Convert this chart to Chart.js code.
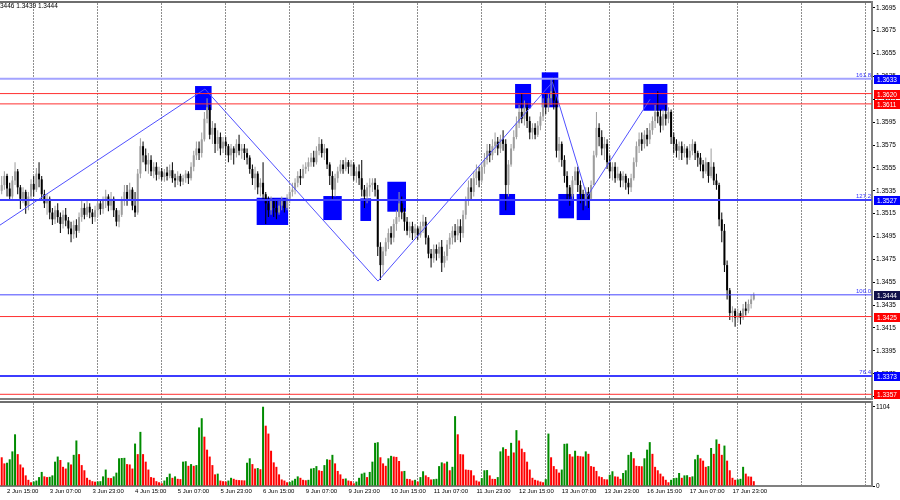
<!DOCTYPE html>
<html>
<head>
<meta charset="utf-8">
<script src="https://cdn.jsdelivr.net/npm/chart.js@4.4.1/dist/chart.umd.min.js"></script>
<style>
html, body { margin: 0; padding: 0; background: #fff; }
#wrap { position: relative; width: 900px; height: 500px; overflow: hidden; }
canvas { position: absolute; left: 0; }
#price { top: 0; }
#vol { top: 400px; }
</style>
</head>
<body>
<div id="wrap">
  <canvas id="price" width="900" height="400"></canvas>
  <canvas id="vol" width="900" height="100"></canvas>
</div>
<script>
// H1 candles, prices in 1/10000 above 1.3000 (3540 = 1.3540)
const firstOpen = 3535;
const closes = [
  3540,3548,3537,3530,3544,3552,3538,3528,3534,3522,
  3530,3541,3536,3550,3545,3532,3524,3528,3516,3510,
  3518,3512,3506,3514,3509,3502,3497,3505,3500,3512,
  3520,3514,3521,3516,3512,3518,3524,3519,3526,3530,
  3522,3528,3518,3508,3514,3526,3534,3528,3536,3522,
  3516,3550,3574,3566,3558,3562,3552,3556,3549,3552,
  3547,3551,3548,3553,3546,3544,3548,3543,3546,3550,
  3546,3556,3566,3572,3568,3580,3598,3608,3584,3590,
  3576,3582,3572,3578,3574,3566,3572,3568,3576,3570,
  3572,3568,3564,3554,3546,3550,3538,3542,3532,3524,
  3518,3526,3520,3516,3522,3526,3520,3528,3534,3536,
  3542,3548,3546,3554,3556,3560,3564,3560,3570,3576,
  3568,3572,3558,3548,3536,3546,3552,3558,3554,3560,
  3556,3558,3548,3552,3546,3536,3530,3538,3540,3542,
  3536,3486,3470,3482,3490,3498,3494,3506,3512,3524,
  3516,3508,3500,3504,3498,3502,3496,3504,3508,3494,
  3480,3476,3484,3480,3486,3472,3478,3488,3494,3500,
  3496,3504,3498,3514,3526,3538,3534,3546,3552,3544,
  3556,3562,3570,3566,3574,3578,3572,3580,3576,3540,
  3558,3572,3582,3594,3604,3598,3608,3596,3586,3590,
  3584,3592,3600,3612,3608,3616,3622,3614,3570,3576,
  3562,3548,3538,3530,3544,3552,3540,3532,3528,3534,
  3528,3540,3566,3590,3582,3572,3576,3560,3552,3556,
  3546,3550,3544,3548,3542,3538,3546,3560,3574,3580,
  3576,3584,3580,3588,3596,3604,3600,3592,3602,3598,
  3604,3582,3576,3570,3574,3568,3572,3564,3570,3576,
  3568,3564,3558,3552,3560,3548,3556,3544,3540,3510,
  3500,3470,3448,3428,3430,3424,3428,3424,3432,3430,
  3436,3440,3444
];
const highs = [
  3548,3552,3550,3542,3548,3560,3554,3540,3538,3536,
  3534,3545,3548,3555,3560,3548,3536,3532,3530,3520,
  3522,3524,3516,3518,3520,3512,3508,3509,3510,3516,
  3526,3524,3526,3524,3519,3522,3528,3527,3530,3536,
  3532,3534,3530,3520,3518,3530,3540,3540,3542,3538,
  3534,3554,3581,3578,3572,3568,3566,3560,3560,3556,
  3555,3554,3556,3558,3560,3550,3552,3550,3549,3553,
  3552,3560,3570,3578,3578,3586,3604,3616,3610,3596,
  3594,3588,3586,3582,3582,3576,3576,3574,3580,3584,
  3576,3576,3572,3566,3558,3556,3552,3546,3560,3534,
  3530,3530,3528,3526,3526,3530,3528,3532,3538,3542,
  3546,3552,3554,3558,3560,3564,3568,3570,3574,3582,
  3580,3576,3572,3560,3552,3550,3556,3562,3562,3564,
  3562,3562,3560,3556,3558,3562,3540,3542,3546,3546,
  3546,3540,3490,3486,3494,3502,3504,3510,3518,3534,
  3530,3520,3512,3508,3508,3506,3504,3508,3514,3512,
  3496,3484,3488,3488,3490,3492,3482,3492,3498,3504,
  3506,3510,3510,3518,3530,3544,3546,3552,3558,3556,
  3560,3568,3576,3576,3580,3586,3582,3584,3588,3580,
  3562,3576,3588,3600,3610,3620,3614,3612,3600,3594,
  3594,3596,3604,3616,3620,3620,3632,3634,3618,3582,
  3578,3566,3552,3540,3548,3556,3556,3544,3536,3538,
  3538,3544,3570,3604,3594,3588,3582,3580,3566,3560,
  3560,3556,3552,3552,3550,3546,3550,3564,3578,3586,
  3586,3588,3590,3594,3600,3610,3622,3606,3606,3610,
  3608,3606,3586,3580,3578,3578,3576,3574,3576,3580,
  3578,3570,3568,3562,3564,3560,3572,3560,3550,3542,
  3516,3506,3474,3450,3434,3432,3432,3430,3436,3438,
  3440,3444,3446
];
const lows = [
  3532,3536,3530,3526,3528,3540,3532,3519,3524,3515,
  3518,3526,3530,3534,3538,3527,3520,3514,3510,3505,
  3506,3507,3498,3502,3504,3497,3490,3493,3494,3498,
  3508,3510,3512,3511,3506,3508,3512,3514,3515,3520,
  3517,3518,3512,3504,3503,3512,3522,3522,3526,3518,
  3512,3514,3546,3560,3552,3550,3548,3546,3544,3545,
  3544,3543,3544,3546,3542,3538,3540,3539,3540,3542,
  3541,3544,3552,3562,3562,3564,3578,3594,3580,3576,
  3568,3570,3566,3568,3566,3560,3562,3558,3564,3566,
  3563,3562,3558,3550,3540,3536,3532,3530,3526,3506,
  3512,3514,3512,3510,3514,3518,3516,3518,3524,3530,
  3532,3538,3540,3546,3550,3552,3556,3556,3558,3566,
  3564,3562,3554,3540,3528,3530,3542,3550,3550,3552,
  3550,3548,3544,3542,3540,3530,3520,3524,3530,3534,
  3530,3478,3457,3462,3478,3484,3488,3490,3500,3508,
  3510,3500,3496,3494,3492,3494,3492,3494,3498,3488,
  3476,3468,3472,3474,3476,3464,3468,3474,3484,3488,
  3490,3492,3490,3494,3510,3522,3526,3530,3540,3538,
  3542,3550,3558,3560,3562,3568,3566,3568,3570,3518,
  3530,3556,3570,3580,3590,3594,3592,3590,3580,3580,
  3580,3582,3588,3596,3602,3604,3610,3606,3564,3560,
  3556,3542,3526,3522,3526,3540,3534,3524,3518,3522,
  3520,3526,3540,3564,3574,3566,3562,3554,3546,3544,
  3542,3544,3538,3538,3536,3532,3534,3544,3556,3568,
  3570,3572,3574,3576,3584,3590,3594,3586,3588,3592,
  3594,3576,3568,3564,3562,3562,3564,3558,3562,3566,
  3562,3556,3552,3546,3550,3542,3546,3540,3536,3504,
  3490,3464,3440,3422,3420,3416,3420,3418,3422,3426,
  3428,3432,3439
];
const volumes = [
  400,315,324,372,482,720,444,300,258,148,
  86,52,62,76,124,196,134,124,128,148,
  339,410,362,267,243,329,300,434,634,444,
  291,219,114,86,67,60,64,67,134,229,
  114,110,134,186,386,390,392,305,300,243,
  591,444,754,444,339,229,124,114,67,52,
  38,76,124,172,114,134,100,96,339,345,
  281,305,281,291,816,944,687,506,410,291,
  162,172,76,67,62,76,114,100,86,82,
  80,78,324,386,305,243,250,234,1104,840,
  730,491,329,267,162,91,76,52,55,76,
  100,134,114,86,80,86,243,250,277,219,
  210,291,372,365,434,315,210,162,100,105,
  76,67,38,62,114,172,186,124,196,339,
  601,610,400,315,281,386,420,410,405,348,
  205,210,100,96,76,86,62,124,205,148,
  124,91,95,100,277,329,315,339,219,267,
  973,720,444,440,229,225,219,148,76,62,
  110,219,222,148,100,98,124,482,539,515,
  420,601,467,778,634,520,472,339,229,114,
  86,76,62,52,95,730,400,277,234,186,
  229,587,591,444,410,491,420,415,410,482,
  448,277,267,210,134,124,95,92,157,205,
  134,130,100,181,219,434,472,386,281,277,
  275,386,506,611,448,267,219,172,134,86,
  52,86,110,114,181,114,148,150,124,134,
  372,434,386,353,267,277,529,448,649,587,
  434,563,353,219,114,86,91,100,267,172,
  134,130,67
];

const timeLabels = ['2 Jun 15:00','3 Jun 07:00','3 Jun 23:00','4 Jun 15:00','5 Jun 07:00','5 Jun 23:00',
  '6 Jun 15:00','9 Jun 07:00','9 Jun 23:00','10 Jun 15:00','11 Jun 07:00','11 Jun 23:00',
  '12 Jun 15:00','13 Jun 07:00','13 Jun 23:00','16 Jun 15:00','17 Jun 07:00','17 Jun 23:00'];
const firstLabelBar = 2, barsPerLabel = 16;

const priceTicks = [1.3695,1.3675,1.3655,1.3635,1.3615,1.3595,1.3575,1.3555,1.3535,
  1.3515,1.3495,1.3475,1.3455,1.3435,1.3415,1.3395,1.3375,1.3355];
const volumeTicks = [0, 1104];

const levelPrices = [1.3633, 1.3620, 1.3611, 1.3527, 1.3444, 1.3425, 1.3373, 1.3357];
const levelNames  = ['161.8', '', '', '127.2', '100.0', '', '76.4', ''];

const zigBars   = [-0.64, 76.2, 141.1, 206.5, 219.5, 243.1];
const zigPrices = [1.3505, 1.3624, 1.3456, 1.3630, 1.3530, 1.3615];

// [from bar, to bar, top price, bottom price]
const boxes = [
  [72.5, 78.7, 1.36266, 1.36056],
  [95.6, 107.4, 1.35289, 1.35051],
  [120.6, 127.5, 1.35304, 1.35094],
  [134.5, 138.5, 1.35284, 1.35086],
  [144.6, 151.6, 1.35429, 1.35167],
  [186.6, 192.5, 1.35322, 1.35138],
  [208.7, 214.6, 1.35322, 1.35109],
  [215.6, 220.6, 1.35322, 1.35094],
  [192.5, 198.5, 1.36284, 1.36071],
  [202.5, 208.7, 1.36386, 1.36080],
  [240.6, 249.6, 1.36284, 1.36050]
];
const header = '3446 1.3439 1.3444';

// styling
const X_MIN = -0.64, X_MAX = 326.33;
const GRID_FIRST = 11.75, GRID_STEP = 24;
const levelStyle = [
  { color: '#a3a3ff', width: 2, tag: '#0000ff' },
  { color: '#ff3030', width: 1, tag: '#ff0000' },
  { color: '#ff3030', width: 1, tag: '#ff0000' },
  { color: '#3c3cff', width: 2, tag: '#0000ff' },
  { color: '#4646ff', width: 1, tag: '#10104a' },
  { color: '#ff3030', width: 1, tag: '#ff0000' },
  { color: '#3c3cff', width: 2, tag: '#0000ff' },
  { color: '#ff3030', width: 1, tag: '#ff0000' }
];
const FONT = '"Liberation Sans", Arial, sans-serif';
Chart.defaults.font.family = FONT;
Chart.defaults.color = '#000';

const px = v => 1 + v / 10000;
const opens = closes.map((c, i) => i === 0 ? firstOpen : closes[i - 1]);
const isUp = i => closes[i] >= opens[i];

const gridTicks = [];
for (let v = GRID_FIRST; v < X_MAX; v += GRID_STEP) gridTicks.push({ value: v });
const labelBars = timeLabels.map((t, k) => firstLabelBar + k * barsPerLabel);

function noPad(s) { s.paddingTop = 0; s.paddingBottom = 0; s.paddingLeft = 0; s.paddingRight = 0; }

const gridAxis = {
  type: 'linear', min: X_MIN, max: X_MAX, position: 'top', offset: false,
  ticks: { display: false },
  grid: { color: '#8e8e8e', lineWidth: 1, drawTicks: false, offset: false },
  border: { display: true, color: '#6e6e6e', width: 2, dash: [2, 1] },
  afterBuildTicks: s => { s.ticks = gridTicks.slice(); },
  afterFit: s => { s.height = 0; noPad(s); }
};

const overlay = {
  id: 'overlay',
  beforeDatasetsDraw(chart) {
    const { ctx, chartArea, scales: { x, y } } = chart;
    ctx.save();
    ctx.beginPath();
    ctx.rect(chartArea.left, chartArea.top, chartArea.width, chartArea.height);
    ctx.clip();
    ctx.fillStyle = '#0000ff';
    boxes.forEach(b => {
      const x0 = x.getPixelForValue(b[0]), x1 = x.getPixelForValue(b[1]);
      const y0 = y.getPixelForValue(b[2]), y1 = y.getPixelForValue(b[3]);
      ctx.fillRect(x0, y0, x1 - x0, y1 - y0);
    });
    ctx.restore();
  },
  afterDraw(chart) {
    const { ctx, chartArea, scales: { y } } = chart;
    ctx.save();
    ctx.font = '6px ' + FONT;
    ctx.fillStyle = '#3535ff';
    ctx.textAlign = 'right';
    ctx.textBaseline = 'alphabetic';
    levelPrices.forEach((p, i) => {
      if (levelNames[i]) ctx.fillText(levelNames[i], chartArea.right - 1, y.getPixelForValue(p) - 2);
    });
    ctx.font = '6.5px ' + FONT;
    ctx.textAlign = 'left';
    ctx.textBaseline = 'middle';
    levelPrices.forEach((p, i) => {
      const yy = Math.round(y.getPixelForValue(p));
      ctx.fillStyle = levelStyle[i].tag;
      ctx.fillRect(chartArea.right + 2, yy - 4, 26, 9);
      ctx.fillStyle = '#fff';
      ctx.fillText(p.toFixed(4), chartArea.right + 5, yy + 0.8);
    });
    ctx.font = '6.5px ' + FONT;
    ctx.fillStyle = '#000';
    ctx.textBaseline = 'top';
    ctx.fillText(header, 0, 3);
    ctx.restore();
  }
};

const bars = closes.map((c, i) => i);
const levelSets = levelPrices.map((p, i) => ({
  type: 'line', order: -2,
  data: [{ x: X_MIN, y: p }, { x: X_MAX, y: p }],
  borderColor: levelStyle[i].color, borderWidth: levelStyle[i].width,
  pointRadius: 0, fill: false
}));

new Chart(document.getElementById('price'), {
  type: 'bar',
  data: {
    datasets: [
      ...levelSets,
      {
        type: 'line', order: -1,
        data: zigBars.map((b, i) => ({ x: b, y: zigPrices[i] })),
        borderColor: '#5050ff', borderWidth: 1, pointRadius: 0, fill: false, tension: 0
      },
      {
        order: 1, grouped: false, barThickness: 2, minBarLength: 1, inflateAmount: 0, borderWidth: 0,
        data: bars.map(i => ({ x: i, y: [px(opens[i]), px(closes[i])] })),
        backgroundColor: c => isUp(c.dataIndex) ? '#9c9c9c' : '#000'
      },
      {
        order: 2, grouped: false, barThickness: 1, inflateAmount: 0, borderWidth: 0,
        data: bars.map(i => ({ x: i, y: [px(Math.min(lows[i], opens[i], closes[i])), px(Math.max(highs[i], opens[i], closes[i]))] })),
        backgroundColor: c => isUp(c.dataIndex) ? '#9c9c9c' : '#000'
      }
    ]
  },
  options: {
    responsive: false, animation: false, devicePixelRatio: 1,
    layout: { padding: { top: 2, bottom: 1, left: 0, right: 0 } },
    plugins: { legend: { display: false }, tooltip: { enabled: false } },
    scales: {
      x: {
        type: 'linear', min: X_MIN, max: X_MAX, position: 'bottom', offset: false,
        ticks: { display: false }, grid: { display: false },
        border: { display: true, color: '#808080', width: 2 },
        afterFit: s => { s.height = 0; noPad(s); }
      },
      xg: gridAxis,
      y: {
        position: 'right', min: 1.33529, max: 1.37001, beginAtZero: false,
        ticks: { autoSkip: false, padding: 1, font: { size: 6.5 }, color: '#000', callback: v => v.toFixed(4) },
        grid: { drawOnChartArea: false, drawTicks: true, tickLength: 3, color: '#000' },
        border: { display: true, color: '#808080', width: 2 },
        afterBuildTicks: s => { s.ticks = priceTicks.map(v => ({ value: v })); },
        afterFit: s => { s.width = 28; noPad(s); }
      }
    }
  },
  plugins: [overlay]
});

new Chart(document.getElementById('vol'), {
  type: 'bar',
  data: {
    datasets: [{
      barThickness: 2, inflateAmount: 0, borderWidth: 0,
      data: volumes.map((v, i) => ({ x: i, y: v })),
      backgroundColor: c => volumes[c.dataIndex] > volumes[c.dataIndex - 1] ? '#008c00' : '#ff0000'
    }]
  },
  options: {
    responsive: false, animation: false, devicePixelRatio: 1,
    layout: { padding: { top: 2, bottom: 0, left: 0, right: 0 } },
    plugins: { legend: { display: false }, tooltip: { enabled: false } },
    scales: {
      x: {
        type: 'linear', min: X_MIN, max: X_MAX, position: 'bottom', offset: false,
        grid: { display: false, drawTicks: false },
        border: { display: true, color: '#808080', width: 2 },
        ticks: {
          autoSkip: false, maxRotation: 0, align: 'start', padding: 2,
          font: { size: 6 }, color: '#000',
          callback: v => timeLabels[labelBars.indexOf(v)] || ''
        },
        afterBuildTicks: s => { s.ticks = labelBars.map(v => ({ value: v })); },
        afterFit: s => { s.height = 14; noPad(s); }
      },
      xg: Object.assign({}, gridAxis),
      y: {
        position: 'right', min: 0, max: 1170, beginAtZero: true,
        ticks: { autoSkip: false, padding: 1, font: { size: 6.5 }, color: '#000', callback: v => String(v) },
        grid: { drawOnChartArea: false, drawTicks: true, tickLength: 3, color: '#000' },
        border: { display: true, color: '#808080', width: 2 },
        afterBuildTicks: s => { s.ticks = volumeTicks.map(v => ({ value: v })); },
        afterFit: s => { s.width = 28; noPad(s); }
      }
    }
  }
});
</script>
</body>
</html>
